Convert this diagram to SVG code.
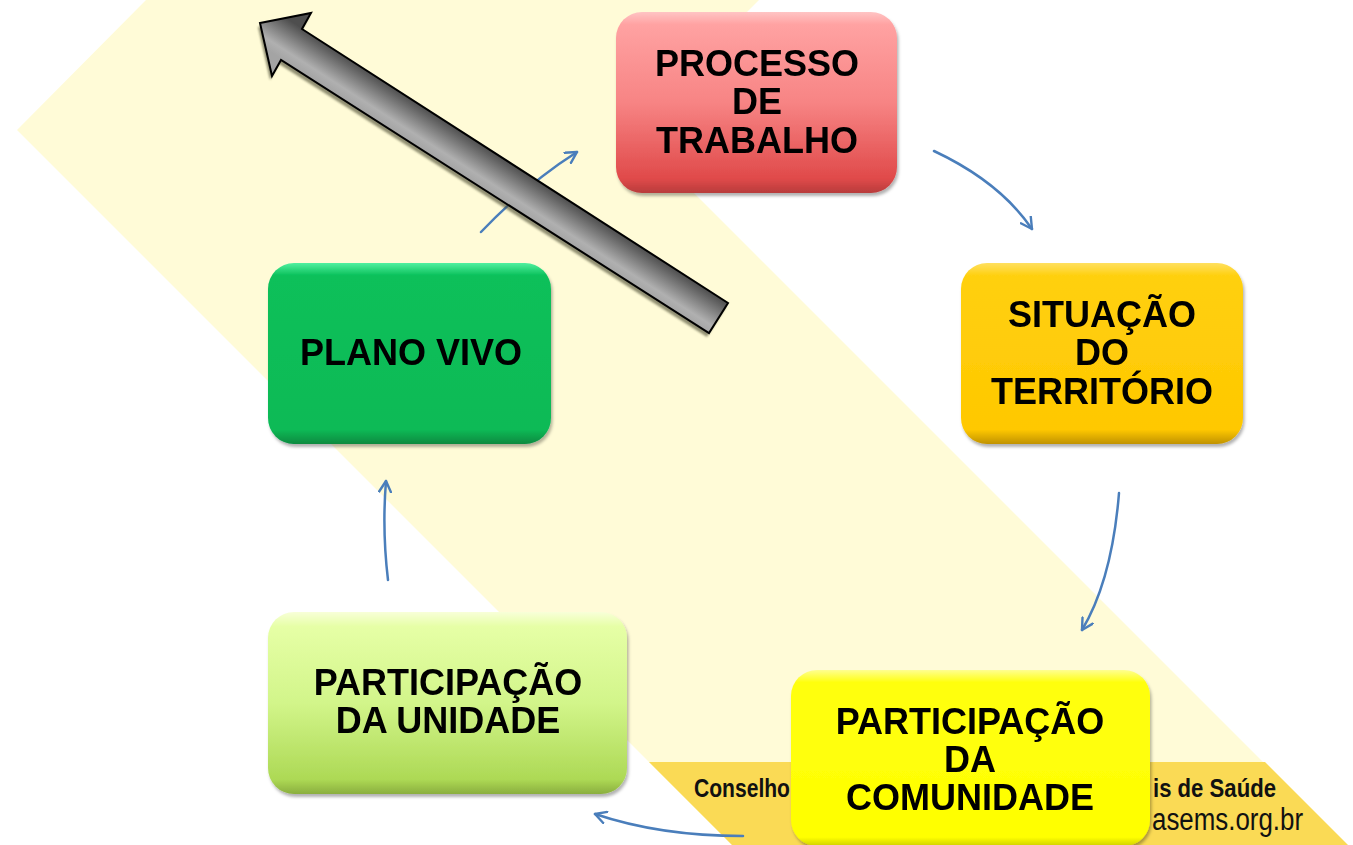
<svg xmlns="http://www.w3.org/2000/svg" width="1353" height="845" viewBox="0 0 1353 845">
<defs>
<style>
.lbl{font-family:"Liberation Sans",Arial,sans-serif;font-weight:bold;font-size:36px;fill:#000;text-anchor:middle}
.ban{font-family:"Liberation Sans",Arial,sans-serif;fill:#111}
.con{fill:none;stroke:#4A7EBB;stroke-width:2.5;stroke-linecap:round;marker-end:url(#vhead)}
</style>
<marker id="vhead" viewBox="0 0 14 14" refX="12" refY="7" markerWidth="14" markerHeight="14" markerUnits="userSpaceOnUse" orient="auto">
<path d="M1,1 L12,7 L1,13" fill="none" stroke="#4A7EBB" stroke-width="2.4" stroke-linecap="round" stroke-linejoin="round"/>
</marker>
<filter id="sh" x="-10%" y="-10%" width="125%" height="130%">
<feDropShadow dx="1.5" dy="3" stdDeviation="1.8" flood-color="#000" flood-opacity="0.3"/>
</filter>
<filter id="blur1"><feGaussianBlur stdDeviation="0.8"/></filter>
<linearGradient id="gRed" x1="0" y1="0" x2="0" y2="1">
<stop offset="0" stop-color="#FFC4C4"/><stop offset="0.07" stop-color="#FFA2A2"/><stop offset="0.5" stop-color="#F78484"/><stop offset="0.92" stop-color="#E04A4A"/><stop offset="1" stop-color="#B83C3C"/>
</linearGradient>
<linearGradient id="gGold" x1="0" y1="0" x2="0" y2="1">
<stop offset="0" stop-color="#FFE060"/><stop offset="0.07" stop-color="#FFD010"/><stop offset="0.92" stop-color="#FFC800"/><stop offset="1" stop-color="#C09200"/>
</linearGradient>
<linearGradient id="gGreen" x1="0" y1="0" x2="0" y2="1">
<stop offset="0" stop-color="#50F0A0"/><stop offset="0.07" stop-color="#0AC05A"/><stop offset="0.92" stop-color="#08BA56"/><stop offset="1" stop-color="#078A40"/>
</linearGradient>
<linearGradient id="gLime" x1="0" y1="0" x2="0" y2="1">
<stop offset="0" stop-color="#F8FFD8"/><stop offset="0.08" stop-color="#E6FFA6"/><stop offset="0.5" stop-color="#D2F58A"/><stop offset="0.92" stop-color="#ADD955"/><stop offset="1" stop-color="#8AAE3E"/>
</linearGradient>
<linearGradient id="gYel" x1="0" y1="0" x2="0" y2="1">
<stop offset="0" stop-color="#FFFF90"/><stop offset="0.07" stop-color="#FFFF10"/><stop offset="0.95" stop-color="#FFFF00"/><stop offset="1" stop-color="#D0D000"/>
</linearGradient>
<linearGradient id="gArrow" gradientUnits="userSpaceOnUse" x1="500" y1="156" x2="480" y2="187">
<stop offset="0" stop-color="#4E4E4E"/><stop offset="0.75" stop-color="#B0B0B0"/><stop offset="1" stop-color="#A4A4A4"/>
</linearGradient>
</defs>
<rect width="1353" height="845" fill="#FFFFFF"/>
<g id="background">
<polygon points="146,0 759,0 630,129 1346,845 732,845 17,130" fill="#FFFBD7"/>
<polygon points="649,762 1265,762 1348,845 732,845" fill="#FADA55"/>
<text class="ban" x="694" y="797" font-size="25" font-weight="bold" textLength="96" lengthAdjust="spacingAndGlyphs">Conselho</text>
<text class="ban" x="1153" y="797" font-size="25" font-weight="bold" textLength="123" lengthAdjust="spacingAndGlyphs">is de Saúde</text>
<text class="ban" x="1152" y="830" font-size="31" textLength="151" lengthAdjust="spacingAndGlyphs">asems.org.br</text>
</g>
<g id="connectors">
<path class="con" d="M481,232 Q528,183 577,152"/>
<path class="con" d="M934,151 Q1000,182 1032,229"/>
<path class="con" d="M1119,493 Q1112,580 1082,630"/>
<path class="con" d="M743,836 Q660,836 595,814"/>
<path class="con" d="M388,580 Q382,530 386,481"/>
</g>
<g id="node-processo" filter="url(#sh)">
<rect x="616" y="12" width="281" height="181" rx="26" fill="url(#gRed)"/>
<text class="lbl" x="757" y="76">PROCESSO</text>
<text class="lbl" x="757" y="114">DE</text>
<text class="lbl" x="757" y="153">TRABALHO</text>
</g>
<g id="node-situacao" filter="url(#sh)">
<rect x="961" y="263" width="282" height="181" rx="26" fill="url(#gGold)"/>
<text class="lbl" x="1102" y="327">SITUAÇÃO</text>
<text class="lbl" x="1102" y="365">DO</text>
<text class="lbl" x="1102" y="404">TERRITÓRIO</text>
</g>
<g id="node-comunidade" filter="url(#sh)">
<rect x="791" y="670" width="359" height="176" rx="26" fill="url(#gYel)"/>
<text class="lbl" x="970" y="734">PARTICIPAÇÃO</text>
<text class="lbl" x="970" y="772">DA</text>
<text class="lbl" x="970" y="810">COMUNIDADE</text>
</g>
<g id="node-unidade" filter="url(#sh)">
<rect x="268" y="612" width="359" height="182" rx="26" fill="url(#gLime)"/>
<text class="lbl" x="448" y="695">PARTICIPAÇÃO</text>
<text class="lbl" x="448" y="733">DA UNIDADE</text>
</g>
<g id="node-plano" filter="url(#sh)">
<rect x="268" y="263" width="283" height="181" rx="26" fill="url(#gGreen)"/>
<text class="lbl" x="411" y="365">PLANO VIVO</text>
</g>
<g id="big-arrow">
<polygon points="260,23 311,13 302,29 728,303 709,333 281,60 272,76" fill="#4A4A30" opacity="0.6" transform="translate(-2,4)" filter="url(#blur1)"/>
<polygon points="260,23 311,13 302,29 728,303 709,333 281,60 272,76" fill="url(#gArrow)" stroke="#000" stroke-width="2" stroke-linejoin="miter"/>
</g>
</svg>
